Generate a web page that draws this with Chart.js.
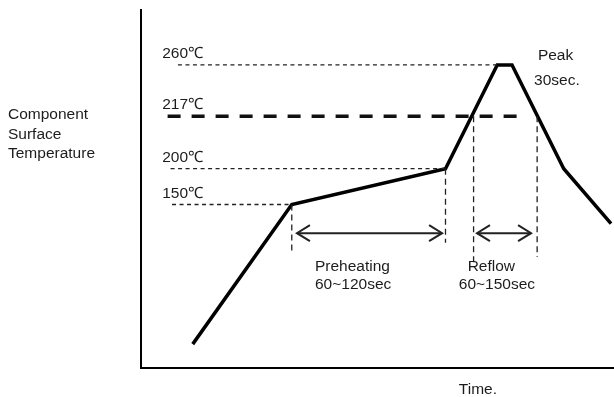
<!DOCTYPE html>
<html>
<head>
<meta charset="utf-8">
<script src="https://cdn.jsdelivr.net/npm/chart.js@4.4.0/dist/chart.umd.min.js"></script>
<style>
  html, body { margin: 0; padding: 0; background: #fff; }
  canvas { display: block; }
</style>
</head>
<body>
<canvas id="area" width="614" height="397"></canvas>
<script>
// schematic reflow profile: time units across, profile level up (not to scale)
const profileTime  = [35, 102, 206, 241, 251, 286, 318];
const profileLevel = [20, 137, 167, 254, 254, 167, 121];

// temperature reference lines
const tempLabels    = ['150\u2103', '200\u2103', '217\u2103', '260\u2103'];
const tempLevels    = [137, 167, 211, 254];
const tempLineStart = [21, 20, 18, 25];
const tempLineEnd   = [102, 206, 261, 241];

// vertical markers bounding the zones
const markerTimes  = [102, 206, 225, 268];
const markerTop    = [137, 167, 211, 211];
const markerBottom = [97, 105, 85, 93];

// zones with double arrows
const zoneNames  = ['Preheating', 'Reflow'];
const zoneRanges = ['60~120sec', '60~150sec'];
const zoneFrom   = [105.5, 227.3];
const zoneTo     = [203.7, 263.9];
const arrowLevel = 113;

const peakLabels = ['Peak', '30sec.'];
const yLabelLines = ['Component', 'Surface', 'Temperature'];
const xLabel = 'Time.';

const FONT = '15.5px "Liberation Sans", Arial, sans-serif';
const INK = '#1c1c1c';

var datasets = [];

tempLevels.forEach((lv, i) => {
  var thick = tempLabels[i].indexOf('217') === 0;
  datasets.push({
    data: [{x: tempLineStart[i], y: lv}, {x: tempLineEnd[i], y: lv}],
    borderColor: thick ? '#111' : '#222',
    borderWidth: thick ? 3.5 : 1.3,
    borderDash: thick ? [13, 11] : [4, 3.5],
    showLine: true, pointRadius: 0
  });
});

markerTimes.forEach((t, i) => {
  datasets.push({
    data: [{x: t, y: markerTop[i]}, {x: t, y: markerBottom[i]}],
    borderColor: '#222',
    borderWidth: 1.3,
    borderDash: [6, 4],
    showLine: true, pointRadius: 0
  });
});

zoneFrom.forEach((f, i) => {
  datasets.push({
    data: [{x: f, y: arrowLevel}, {x: zoneTo[i], y: arrowLevel}],
    borderColor: '#222',
    borderWidth: 2,
    showLine: true, pointRadius: 0
  });
});

datasets.push({
  data: profileTime.map((t, i) => ({x: t, y: profileLevel[i]})),
  borderColor: '#000',
  borderWidth: 3.5,
  borderJoinStyle: 'miter',
  showLine: true, pointRadius: 0, tension: 0
});

// arrow heads + text
const notes = {
  id: 'notes',
  afterDatasetsDraw(chart) {
    var c = chart.ctx, xs = chart.scales.x, ys = chart.scales.y;
    c.save();
    // chevrons
    c.strokeStyle = '#222';
    c.lineWidth = 2;
    zoneFrom.forEach((f, i) => {
      var y = ys.getPixelForValue(arrowLevel);
      var a = xs.getPixelForValue(f), b = xs.getPixelForValue(zoneTo[i]);
      c.beginPath();
      c.moveTo(a + 13, y - 8); c.lineTo(a, y); c.lineTo(a + 13, y + 8);
      c.moveTo(b - 13, y - 8); c.lineTo(b, y); c.lineTo(b - 13, y + 8);
      c.stroke();
    });

    c.fillStyle = INK;
    c.font = FONT;
    c.textBaseline = 'alphabetic';
    c.textAlign = 'left';

    tempLabels.forEach((t, i) => {
      c.fillText(t, xs.getPixelForValue(14.3), ys.getPixelForValue(tempLevels[i]) - 7);
    });

    // zone captions
    c.fillText(zoneNames[0], xs.getPixelForValue(117.7), ys.getPixelForValue(81.3));
    c.fillText(zoneRanges[0], xs.getPixelForValue(117.7), ys.getPixelForValue(66.2));
    c.fillText(zoneNames[1], xs.getPixelForValue(221), ys.getPixelForValue(81.3));
    c.fillText(zoneRanges[1], xs.getPixelForValue(215), ys.getPixelForValue(66.2));

    c.fillText(peakLabels[0], xs.getPixelForValue(268.5), ys.getPixelForValue(258));
    c.fillText(peakLabels[1], xs.getPixelForValue(265.9), ys.getPixelForValue(237));

    // axis captions
    yLabelLines.forEach((t, i) => c.fillText(t, 8, 119 + i * 19.5));
    c.fillText(xLabel, xs.getPixelForValue(215), chart.chartArea.bottom + 26);
    c.restore();
  }
};

new Chart(document.getElementById('area'), {
  type: 'scatter',
  data: { datasets: datasets },
  options: {
    responsive: false,
    animation: false,
    devicePixelRatio: 1,
    layout: { padding: { left: 141, top: 10, right: 0, bottom: 29 } },
    scales: {
      x: {
        type: 'linear', min: 0, max: 320,
        grid: { display: false, drawTicks: false },
        ticks: { display: false },
        border: { display: true, color: '#000', width: 2 }
      },
      y: {
        type: 'linear', min: 0, max: 300,
        grid: { display: false, drawTicks: false },
        ticks: { display: false },
        border: { display: true, color: '#000', width: 2 }
      }
    },
    plugins: {
      legend: { display: false },
      tooltip: { enabled: false }
    }
  },
  plugins: [notes]
});
</script>
</body>
</html>
